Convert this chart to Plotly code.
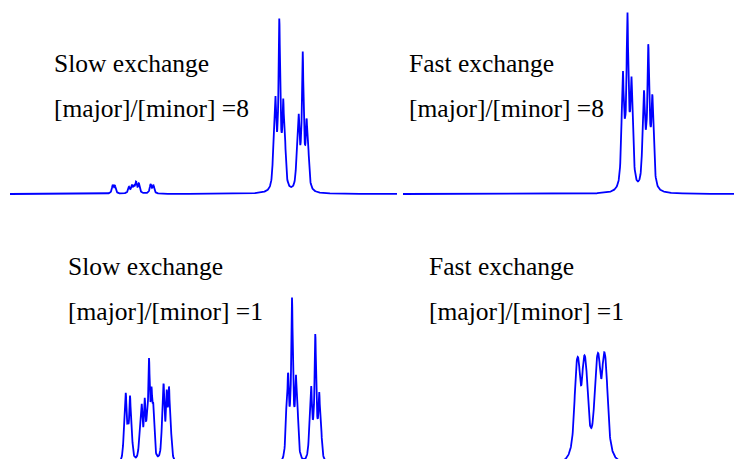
import numpy as np
import plotly.graph_objects as go

W, H = 734, 459

# ---- line lists (position in Hz-like units, intensity, half width) ----
# Slow exchange, [major]/[minor] = 8
TL_POS = [112.7, 114.9, 128.9, 131.9, 134.0, 136.1, 138.9, 150.6, 153.3,
          273.6, 275.4, 277.3, 279.3, 281.3, 283.2, 285.0,
          296.9, 298.7, 300.7, 302.7, 304.7, 306.6, 308.4]
TL_INT = [8, 7, 6, 7, 5, 10, 9, 9, 8,
          35, 76, 10, 160, 10, 73, 33,
          28, 62, 8, 130, 8, 58, 26]
TL_WID = 1.0

# Fast exchange, [major]/[minor] = 8
TR_POS = [621.6, 622.9, 625.0, 627.4, 629.6, 631.4, 632.9,
          642.6, 644.0, 646.2, 648.3, 650.3, 652.3, 653.6]
TR_INT = [25, 97, 20, 161, 18, 88, 28,
          22, 80, 16, 130, 15, 75, 22]
TR_WID = 1.1

# Slow exchange, [major]/[minor] = 1
BL_POS = [124.2, 125.8, 127.9, 130.0, 131.7,
          139.8, 141.7, 144.7, 146.9, 149.0, 151.5, 153.3,
          162.0, 163.6, 166.7, 169.0, 170.8,
          286.3, 288.1, 290.0, 292.0, 294.0, 295.9, 297.7,
          309.6, 311.2, 313.2, 315.3, 317.3, 319.2, 321.0]
BL_INT = [26, 58, 18, 57, 18,
          26, 47, 52, 18, 90, 53, 42,
          19, 68, 57, 62, 21,
          34, 72, 10, 153, 10, 70, 32,
          26, 62, 8, 120, 8, 57, 25]
BL_WID = 1.0

# Fast exchange, [major]/[minor] = 1
BR_POS = [575.7, 577.4, 579.0, 583.3, 585.0, 586.7,
          595.7, 597.7, 599.3, 603.3, 605.0, 606.7]
BR_INT = [45, 39, 43, 46, 41, 38,
          46, 43, 41, 49, 43, 39]
BR_WID = 2.2

LABEL_TOP = "Slow exchange"
LABEL_FAST = "Fast exchange"
RATIO_8 = "[major]/[minor] =8"
RATIO_1 = "[major]/[minor] =1"


def spectrum(x, pos, inten, wid):
    p = np.asarray(pos, float)[:, None]
    a = np.asarray(inten, float)[:, None]
    return (a * wid ** 2 / ((x[None, :] - p) ** 2 + wid ** 2)).sum(axis=0)


# panel: pixel box and y range (baseline = 0)
panels = [
    dict(px=(10, 397), py=(0, 200), yr=(-6, 194), pos=TL_POS, inten=TL_INT, wid=TL_WID),
    dict(px=(403, 734), py=(0, 200), yr=(-6, 194), pos=TR_POS, inten=TR_INT, wid=TR_WID),
    dict(px=(0, 367), py=(230, 459), yr=(7, 236), pos=BL_POS, inten=BL_INT, wid=BL_WID),
    dict(px=(367, 734), py=(230, 459), yr=(7, 236), pos=BR_POS, inten=BR_INT, wid=BR_WID),
]

fig = go.Figure()
layout = dict(width=W, height=H, margin=dict(l=0, r=0, t=0, b=0),
              paper_bgcolor="white", plot_bgcolor="white", showlegend=False)

for i, p in enumerate(panels, start=1):
    x = np.arange(p["px"][0], p["px"][1] + 0.001, 0.25)
    y = spectrum(x, p["pos"], p["inten"], p["wid"])
    sfx = "" if i == 1 else str(i)
    fig.add_trace(go.Scatter(x=x, y=y, mode="lines", xaxis="x" + sfx, yaxis="y" + sfx,
                             line=dict(color="#0000FF", width=1.8), hoverinfo="skip"))
    layout["xaxis" + sfx] = dict(domain=[p["px"][0] / W, p["px"][1] / W],
                                 range=list(p["px"]), visible=False, anchor="y" + sfx)
    layout["yaxis" + sfx] = dict(domain=[1 - p["py"][1] / H, 1 - p["py"][0] / H],
                                 range=list(p["yr"]), visible=False, anchor="x" + sfx)

fig.update_layout(**layout)

texts = [
    (52, 64, LABEL_TOP), (52, 108, RATIO_8),
    (407, 64, LABEL_FAST), (407, 108, RATIO_8),
    (66, 266, LABEL_TOP), (66, 311, RATIO_1),
    (427, 266, LABEL_FAST), (427, 311, RATIO_1),
]
for tx, ty, t in texts:
    fig.add_annotation(x=tx / W, y=1 - ty / H, xref="paper", yref="paper",
                       text=t, showarrow=False, xanchor="left", yanchor="middle",
                       font=dict(family="Liberation Serif", size=25.5, color="black"))

fig.write_html("out.html")
